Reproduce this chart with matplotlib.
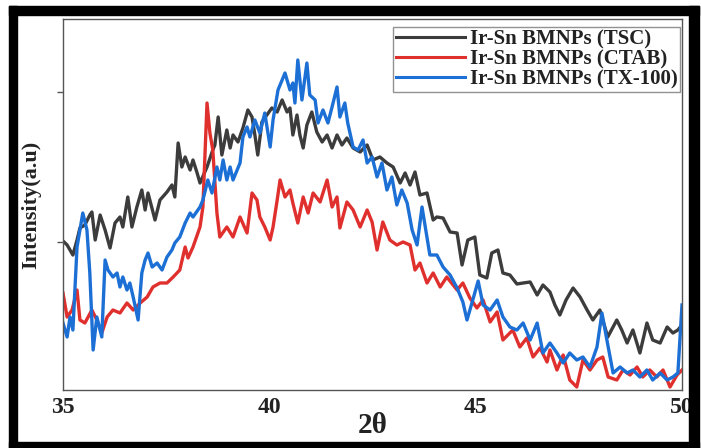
import matplotlib
matplotlib.use("Agg")
import matplotlib.pyplot as plt
from matplotlib.patches import Rectangle
import numpy as np

# ---- data (2theta, intensity a.u.) ----
tsc_x = [35.00, 35.10, 35.17, 35.24, 35.34, 35.41, 35.53, 35.65, 35.70, 35.78, 35.90, 36.02, 36.14, 36.26,
         36.38, 36.45, 36.57, 36.67, 36.79, 36.91, 36.99, 37.06, 37.23, 37.35, 37.52, 37.64, 37.71, 37.79,
         37.88, 37.96, 38.08, 38.15, 38.25, 38.32,
         38.49, 38.63, 38.68, 38.76, 38.85, 38.97, 39.05, 39.12, 39.24, 39.36, 39.48, 39.58, 39.65, 39.72,
         39.82, 39.94, 40.06, 40.19, 40.31, 40.43, 40.50, 40.57, 40.67, 40.74, 40.82, 40.91, 41.03, 41.15,
         41.28, 41.40, 41.52, 41.64, 41.76, 41.88, 42.03, 42.20, 42.37,
         42.51, 42.68, 42.85, 43.00, 43.17, 43.29, 43.41, 43.53, 43.65, 43.82, 43.97, 44.06, 44.21,
         44.38, 44.55, 44.67, 44.81, 44.98, 45.10, 45.27, 45.39, 45.54, 45.66, 45.83, 46.00, 46.15, 46.32,
         46.49, 46.63, 46.80, 46.92, 47.04, 47.19, 47.36, 47.53, 47.70, 47.84, 48.01, 48.20, 48.42, 48.54,
         48.67, 48.81, 48.98, 49.15, 49.29, 49.47, 49.64, 49.78, 49.90, 50.00]
tsc_y = [149, 145, 140, 135, 150, 162, 165, 175, 178, 150, 175, 160, 142, 167,
         173, 163, 193, 163, 183, 200, 180, 197, 170, 190, 198, 205, 193, 247,
         223, 233, 220, 230, 217, 207,
         223, 240, 245, 273, 235, 260, 242, 255, 248, 262, 280, 273, 255, 235,
         268, 275, 282, 278, 290, 278, 282, 255, 275, 255, 242, 265, 278, 258,
         248, 255, 242, 255, 245, 252, 242, 238, 245,
         230, 233, 227, 223, 207, 217, 205, 218, 195, 197, 170, 173, 172,
         158, 157, 125, 150, 153, 115, 112, 137, 140, 117, 115, 106, 107, 108,
         95, 105, 98, 85, 75, 90, 102, 93, 80, 70, 80, 53, 70, 60,
         47, 60, 37, 67, 50, 47, 63, 57, 60, 65]

ctab_x = [35.00, 35.10, 35.22, 35.34, 35.41, 35.53, 35.70, 35.82, 35.94, 36.07, 36.21, 36.38, 36.55, 36.70,
          36.87, 37.04, 37.18, 37.35, 37.52, 37.67, 37.83, 37.96, 38.03, 38.15, 38.32, 38.39, 38.49, 38.56,
          38.63, 38.73, 38.80, 38.97, 39.12, 39.29, 39.46, 39.58, 39.70, 39.77, 39.89, 40.02, 40.09, 40.19,
          40.26, 40.38, 40.50, 40.57, 40.69, 40.82, 40.94, 41.06, 41.23, 41.40, 41.52, 41.64, 41.71, 41.88,
          42.03, 42.20, 42.37, 42.49, 42.61, 42.75, 42.92, 43.09, 43.24, 43.41, 43.53, 43.65, 43.82, 43.97,
          44.14, 44.30, 44.55, 44.69, 44.86, 45.03, 45.18, 45.35, 45.52, 45.66, 45.90, 46.07, 46.24, 46.39,
          46.56, 46.73, 46.80, 46.97, 47.12, 47.28, 47.45, 47.60, 47.77, 47.94, 48.08, 48.21, 48.42, 48.57,
          48.74, 48.91, 49.05, 49.22, 49.39, 49.54, 49.71, 49.88, 50.00]
ctab_y = [97, 73, 80, 100, 70, 67, 80, 70, 57, 73, 80, 77, 87, 80,
          87, 93, 103, 107, 107, 113, 120, 143, 132, 143, 163, 183, 287, 257,
          240, 177, 153, 163, 153, 173, 157, 197, 190, 173, 163, 150, 163, 190,
          210, 193, 200, 187, 167, 193, 177, 197, 188, 210, 183, 193, 162, 188,
          180, 163, 180, 168, 140, 168, 150, 145, 148, 145, 120, 127, 107, 117,
          103, 113, 100, 107, 92, 82, 90, 68, 78, 50, 60, 43, 52, 33,
          42, 28, 40, 20, 35, 10, 3, 30, 20, 30, 33, 13, 10, 20,
          15, 23, 13, 20, 13, 20, 3, 15, 20]

tx_x = [35.00, 35.10, 35.17, 35.24, 35.34, 35.41, 35.48, 35.58, 35.65, 35.73, 35.82, 35.94, 36.02, 36.09,
        36.21, 36.31, 36.38, 36.45, 36.55, 36.62, 36.70, 36.82, 36.91, 36.99, 37.06, 37.16, 37.28, 37.40,
        37.52, 37.64, 37.71, 37.83, 37.96, 38.08, 38.15, 38.32, 38.39, 38.51, 38.61, 38.73, 38.80, 38.88,
        38.97, 39.05, 39.12, 39.29, 39.36, 39.46, 39.53, 39.65, 39.77, 39.89, 40.02, 40.09, 40.21, 40.31,
        40.38, 40.50, 40.57, 40.62, 40.69, 40.79, 40.91, 40.98, 41.11, 41.18, 41.30, 41.42, 41.52, 41.64,
        41.71, 41.83, 41.90, 42.03, 42.15, 42.27, 42.37, 42.49, 42.61, 42.73, 42.85, 42.97, 43.09, 43.21,
        43.34, 43.46, 43.58, 43.70, 43.82, 43.89, 44.06, 44.21, 44.38, 44.55, 44.69, 44.79, 44.93, 45.06,
        45.18, 45.35, 45.52, 45.66, 45.83, 46.00, 46.15, 46.32, 46.49, 46.63, 46.80, 46.97, 47.12, 47.28,
        47.45, 47.60, 47.77, 47.94, 48.06, 48.18, 48.33, 48.50, 48.67, 48.81, 48.98, 49.15, 49.29, 49.47,
        49.64, 49.78, 49.90, 50.00]
tx_y = [67, 53, 73, 60, 143, 160, 177, 160, 117, 40, 73, 53, 130, 120,
        113, 117, 103, 113, 100, 107, 93, 70, 117, 130, 137, 123, 127, 120,
        133, 140, 147, 153, 167, 177, 173, 183, 190, 210, 197, 223, 210, 230,
        210, 223, 210, 227, 253, 263, 253, 270, 257, 277, 243, 270, 300, 310,
        317, 300, 307, 287, 330, 290, 327, 295, 290, 267, 280, 267, 283, 303,
        273, 287, 267, 243, 240, 250, 227, 233, 213, 227, 200, 213, 185, 200,
        187, 160, 145, 183, 153, 135, 135, 123, 115, 102, 88, 70, 90, 109,
        85, 80, 90, 73, 63, 60, 67, 50, 67, 37, 47, 37, 27, 37,
        30, 33, 23, 43, 77, 50, 17, 23, 17, 20, 13, 20, 10, 17,
        10, 13, 17, 85]

labels = ["Ir-Sn BMNPs (TSC)", "Ir-Sn BMNPs (CTAB)", "Ir-Sn BMNPs (TX-100)"]
colors = ["#3c3c3c", "#e0302e", "#1c6fd4"]
x_ticks = [35, 40, 45, 50]

plt.rcParams['font.family'] = ['Liberation Serif', 'DejaVu Serif']

W, H = 701, 448
fig = plt.figure(figsize=(W / 100, H / 100), dpi=100)
ax = fig.add_axes([63 / W, 1 - 390 / H, (682 - 63) / W, (390 - 19) / H])

series = [(tsc_x, tsc_y), (ctab_x, ctab_y), (tx_x, tx_y)]
for (xs, ys), lab, c in zip(series, labels, colors):
    ax.plot(xs, ys, color=c, lw=2.4, label=lab, solid_joinstyle='round')

ax.set_xlim(35, 50)
ax.set_ylim(0, 371)
ax.set_xticks(x_ticks)
ax.set_xticklabels([str(t) for t in x_ticks], fontsize=17, fontweight='bold', color='#222222')
ax.set_yticks([148, 298])
ax.set_yticklabels([])
ax.tick_params(axis='x', length=0, pad=5)
ax.tick_params(axis='y', length=4, width=1, color='#555555', direction='out')
for s in ax.spines.values():
    s.set_color('#555555')
    s.set_linewidth(1.0)

ax.set_xlabel("2θ", fontsize=21, fontweight='bold', color='#222222', labelpad=-4)
ax.set_ylabel("Intensity(a.u)", fontsize=16, fontweight='bold', color='#222222', labelpad=8)

leg = ax.legend(loc='upper right', bbox_to_anchor=((680 - 63) / 619, (390 - 27) / 371),
                prop={'weight': 'bold', 'size': 15}, frameon=True, fancybox=False,
                edgecolor='#777777', borderpad=0.12, labelspacing=0.0, handlelength=3.3,
                handletextpad=0.25, borderaxespad=0.0)
for t in leg.get_texts():
    t.set_color('#222222')
for l in leg.get_lines():
    l.set_linewidth(2.2)
leg.get_frame().set_linewidth(1.0)

# outer black frame of the picture
def band(x0, y0, x1, y1):
    fig.patches.append(Rectangle((x0 / W, 1 - y1 / H), (x1 - x0) / W, (y1 - y0) / H,
                                 transform=fig.transFigure, color='black', zorder=10))

band(9, 6, 17, 448)      # left
band(689, 6, 699, 448)   # right
band(9, 6, 699, 15)      # top
band(9, 442, 699, 448)   # bottom

fig.savefig("out.png", dpi=100)
